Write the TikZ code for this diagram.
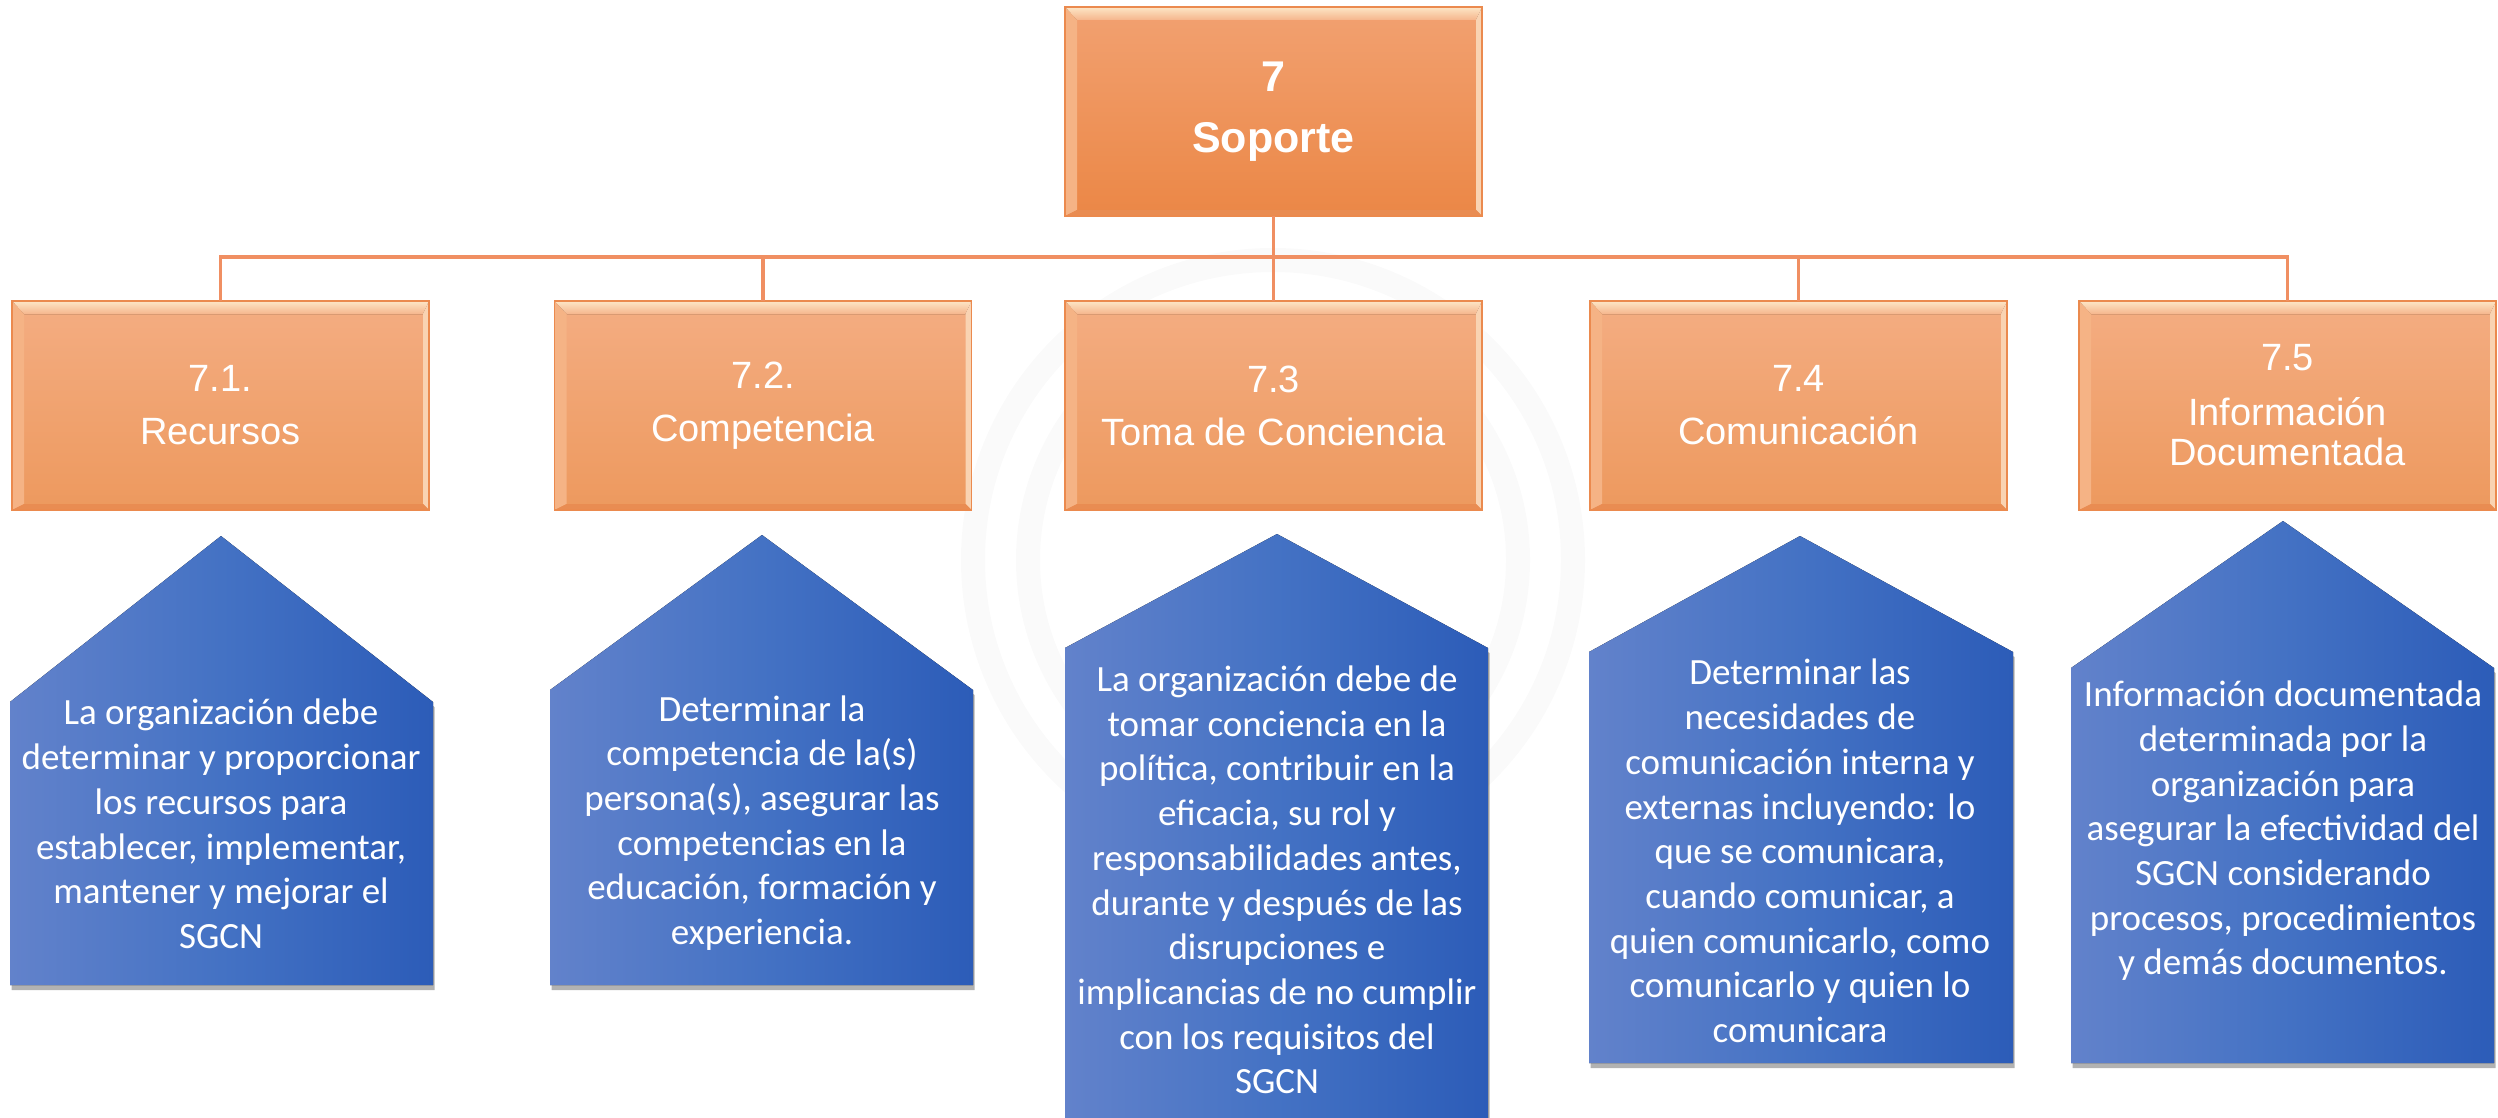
\documentclass[tikz,border=0pt]{standalone}
\usepackage{fontspec}
\setmainfont{Liberation Sans}
\newfontfamily\calib{Carlito}
\usetikzlibrary{calc,shadows}
\definecolor{otop}{HTML}{F4AD82}
\definecolor{obot}{HTML}{ED995E}
\definecolor{ttop}{HTML}{F2A171}
\definecolor{tbot}{HTML}{EB8746}
\definecolor{oedge}{HTML}{EB8A4E}
\definecolor{linec}{HTML}{F08F62}
\definecolor{bleft}{HTML}{6282CB}
\definecolor{bmid}{HTML}{4472C4}
\definecolor{bright}{HTML}{2C5CB8}
\definecolor{hilite}{HTML}{FDE6C6}
\definecolor{bevl}{HTML}{F5B385}
\definecolor{bevr}{HTML}{F9D3B2}
\definecolor{bevb}{HTML}{E98C52}
\definecolor{ringc}{HTML}{FAFAFA}
\tikzset{
  obox/.style={draw=oedge, line width=1.5pt, top color=otop, bottom color=obot,
    minimum width=417pt, minimum height=209pt, inner sep=0pt, outer sep=0pt,
    text=white, align=center, font=\fontsize{38}{40}\selectfont},
  topbox/.style={obox, top color=ttop, bottom color=tbot,
    font=\bfseries\fontsize{43}{61}\selectfont},
  conn/.style={draw=linec, line width=3.5pt},
  house/.style={left color=bleft, right color=bright, middle color=bmid,
    drop shadow={shadow xshift=1.5pt, shadow yshift=-5pt, opacity=0.3, fill=black}},
  btext/.style={text=white, align=center, inner sep=0pt,
    font=\calib\fontsize{37}{44.7}\selectfont},
  bevtop/.style={top color=hilite, bottom color=otop!85!hilite},
  bevleft/.style={fill=bevl},
  bevright/.style={fill=bevr},
  bevbot/.style={fill=bevb},
  ring/.style={draw=ringc, line width=24pt}
}
\begin{document}
\begin{tikzpicture}[x=1pt,y=-1pt]
\useasboundingbox (0,0) rectangle (2498,1118);
% faint watermark rings
\draw[ring] (1273,560) circle (300);
\draw[ring] (1273,560) circle (245);

% orange boxes
\node[topbox] (top) at (1273.5,111.5) {7\\Soporte};
\node[obox] (c1) at (220.5,405.5) {7.1.\\[13pt]Recursos};
\node[obox] (c2) at (763,405.5) {7.2.\\[13pt]Competencia};
\node[obox] (c3) at (1273.5,405.5) {7.3\\[13pt]Toma de Conciencia};
\node[obox] (c4) at (1798.5,405.5) {7.4\\[13pt]Comunicación};
\node[obox] (c5) at (2287.5,405.5) {7.5\\[15pt]Información\\Documentada};

% bevels
\foreach \n in {top,c1,c2,c3,c4,c5}{
  \coordinate (\n-a) at ($(\n.north west)+(12pt,-13pt)$);
  \coordinate (\n-b) at ($(\n.north east)+(-6pt,-13pt)$);
  \coordinate (\n-c) at ($(\n.south east)+(-6pt,6pt)$);
  \coordinate (\n-d) at ($(\n.south west)+(12pt,6pt)$);
  \fill[bevtop] (\n.north west) -- (\n.north east) -- (\n-b) -- (\n-a) -- cycle;
  \fill[bevleft] (\n.north west) -- (\n-a) -- (\n-d) -- (\n.south west) -- cycle;
  \fill[bevright] (\n.north east) -- (\n.south east) -- (\n-c) -- (\n-b) -- cycle;
  \fill[bevbot] (\n.south west) -- (\n.south east) -- (\n-c) -- (\n-d) -- cycle;
  \draw[oedge, line width=1.5pt] (\n.north west) rectangle (\n.south east);
}

% connectors
\coordinate (bar) at (1273.5,257);
\draw[conn] (top.south) -- (c3.north);
\foreach \n in {c1,c2,c4,c5}{
  \draw[conn] (bar) -| (\n.north);
}

% blue house shapes
\fill[house] (10,702) -- (221,536) -- (433,702) -- (433,985) -- (10,985) -- cycle;
\fill[house] (550,690) -- (762,535) -- (973,690) -- (973,985) -- (550,985) -- cycle;
\fill[house] (1065,648) -- (1277,534) -- (1488,648) -- (1488,1130) -- (1065,1130) -- cycle;
\fill[house] (1589,652) -- (1800,536) -- (2013,652) -- (2013,1063) -- (1589,1063) -- cycle;
\fill[house] (2071,668) -- (2283,521) -- (2494,668) -- (2494,1063) -- (2071,1063) -- cycle;

% texts
\node[btext] (t1) at (221,824) {La organización debe\\determinar y proporcionar\\los recursos para\\establecer, implementar,\\mantener y mejorar el\\SGCN};
\node[btext] (t2) at (762,823) {Determinar la\\competencia de la(s)\\persona(s), asegurar las\\competencias en la\\educación, formación y\\experiencia.};
\node[btext] (t3) at (1277,880) {La organización debe de\\tomar conciencia en la\\política, contribuir en la\\eficacia, su rol y\\responsabilidades antes,\\durante y después de las\\disrupciones e\\implicancias de no cumplir\\con los requisitos del\\SGCN};
\node[btext] (t4) at (1800,851) {Determinar las\\necesidades de\\comunicación interna y\\externas incluyendo: lo\\que se comunicara,\\cuando comunicar, a\\quien comunicarlo, como\\comunicarlo y quien lo\\comunicara};
\node[btext] (t5) at (2283,831) {Información documentada\\determinada por la\\organización para\\asegurar la efectividad del\\SGCN considerando\\procesos, procedimientos\\y demás documentos.};
\end{tikzpicture}
\end{document}
